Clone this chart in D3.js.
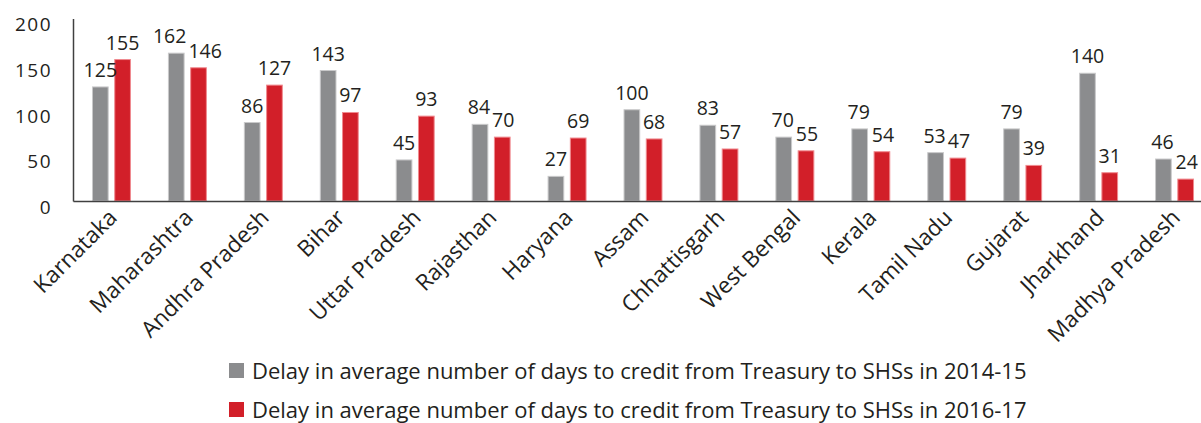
<!DOCTYPE html>
<html>
<head>
  <script src="https://cdn.jsdelivr.net/npm/d3@7"></script>
  <style>
    body { margin: 0; background: #fff; }
    text { font-family: "Open Sans", sans-serif; fill: #231f20; }
  </style>
</head>
<body>
  <div id="chart"></div>
<script>
  // data
  const states = ["Karnataka", "Maharashtra", "Andhra Pradesh", "Bihar", "Uttar Pradesh",
    "Rajasthan", "Haryana", "Assam", "Chhattisgarh", "West Bengal", "Kerala",
    "Tamil Nadu", "Gujarat", "Jharkhand", "Madhya Pradesh"];
  const delay2014 = [125, 162, 86, 143, 45, 84, 27, 100, 83, 70, 79, 53, 79, 140, 46];
  const delay2016 = [155, 146, 127, 97, 93, 70, 69, 68, 57, 55, 54, 47, 39, 31, 24];
  const seriesNames = [
    "Delay in average number of days to credit from Treasury to SHSs in 2014-15",
    "Delay in average number of days to credit from Treasury to SHSs in 2016-17"
  ];
  const yTicks = [0, 50, 100, 150, 200];
  const colors = ["#8b8c8e", "#d21f29"];
  const strokes = ["#c9c9ca", "#f08a8f"];

  const width = 1201, height = 423;
  const margin = {left: 73, bottom: 201, top: 18.5};

  const svg = d3.select("#chart").append("svg")
    .attr("width", width)
    .attr("height", height);

  const x0 = d3.scaleBand()
    .domain(states)
    .range([margin.left, margin.left + 76 * 15])
    .paddingInner(0.487)
    .paddingOuter(0.25);

  const x1 = d3.scaleBand()
    .domain([0, 1])
    .range([0, x0.bandwidth()])
    .paddingInner(0.25);

  const y = d3.scaleLinear()
    .domain([0, 200])
    .range([margin.bottom, margin.top]);

  // bars
  const rows = states.map((s, i) => ({state: s, vals: [delay2014[i], delay2016[i]]}));

  const groups = svg.selectAll("g.state")
    .data(rows)
    .enter()
    .append("g")
      .attr("class", "state")
      .attr("transform", d => "translate(" + x0(d.state) + ",0)");

  groups.selectAll("rect")
    .data(d => d.vals.map((v, k) => ({k: k, v: v})))
    .enter()
    .append("rect")
      .attr("x", d => x1(d.k) + 0.5)
      .attr("y", d => y(d.v))
      .attr("width", x1.bandwidth() - 1)
      .attr("height", d => margin.bottom - y(d.v))
      .attr("fill", d => colors[d.k])
      .attr("stroke", d => strokes[d.k])
      .attr("stroke-width", 1);

  // value labels, nudged apart sideways when a pair collides
  groups.each(function(d) {
    const g = d3.select(this);
    const labels = d.vals.map((v, k) => g.append("text")
      .attr("x", x1(k) + x1.bandwidth() / 2)
      .attr("y", y(v) - 10)
      .attr("text-anchor", "middle")
      .style("font-size", "19.5px")
      .text(v));
    const b0 = labels[0].node().getBBox(), b1 = labels[1].node().getBBox();
    const overlapX = b0.x + b0.width - b1.x;
    const overlapY = Math.min(b0.y + b0.height, b1.y + b1.height) - Math.max(b0.y, b1.y);
    if (overlapX > 0 && overlapY > 4) {
      const shift = overlapX / 2 + 1;
      labels[0].attr("x", +labels[0].attr("x") - shift);
      labels[1].attr("x", +labels[1].attr("x") + shift);
    }
  });

  // y axis
  const yAxis = svg.append("g")
    .attr("transform", "translate(" + margin.left + ",0)")
    .call(d3.axisLeft(y).tickValues(yTicks).tickSize(0).tickSizeOuter(0).tickPadding(21));
  yAxis.select(".domain").attr("stroke", "#404040").attr("stroke-width", 1.5);
  yAxis.selectAll("text")
    .attr("dy", "0.65em")
    .style("font-size", "19px")
    .style("letter-spacing", "1.5px")
    .style("font-family", "'Open Sans', sans-serif")
    .attr("fill", "#231f20");

  // x axis
  const xAxis = svg.append("g")
    .attr("transform", "translate(0," + margin.bottom + ")")
    .call(d3.axisBottom(x0).tickSize(0).tickSizeOuter(0));
  xAxis.select(".domain").attr("stroke", "#404040").attr("stroke-width", 1.5);
  xAxis.selectAll("text")
    .attr("x", 0).attr("y", 0).attr("dy", 0)
    .attr("text-anchor", "end")
    .attr("transform", "translate(7,18) rotate(-45)")
    .style("font-size", "22.5px")
    .style("font-family", "'Open Sans', sans-serif")
    .attr("fill", "#231f20");

  // legend
  const legend = svg.selectAll("g.legend")
    .data(seriesNames)
    .enter()
    .append("g")
      .attr("class", "legend")
      .attr("transform", (d, i) => "translate(229," + (363 + i * 39) + ")");
  legend.append("rect")
    .attr("width", 15).attr("height", 15)
    .attr("fill", (d, i) => colors[i]);
  legend.append("text")
    .attr("x", 23).attr("y", 16)
    .style("font-size", "22px")
    .text(d => d);
</script>
</body>
</html>
